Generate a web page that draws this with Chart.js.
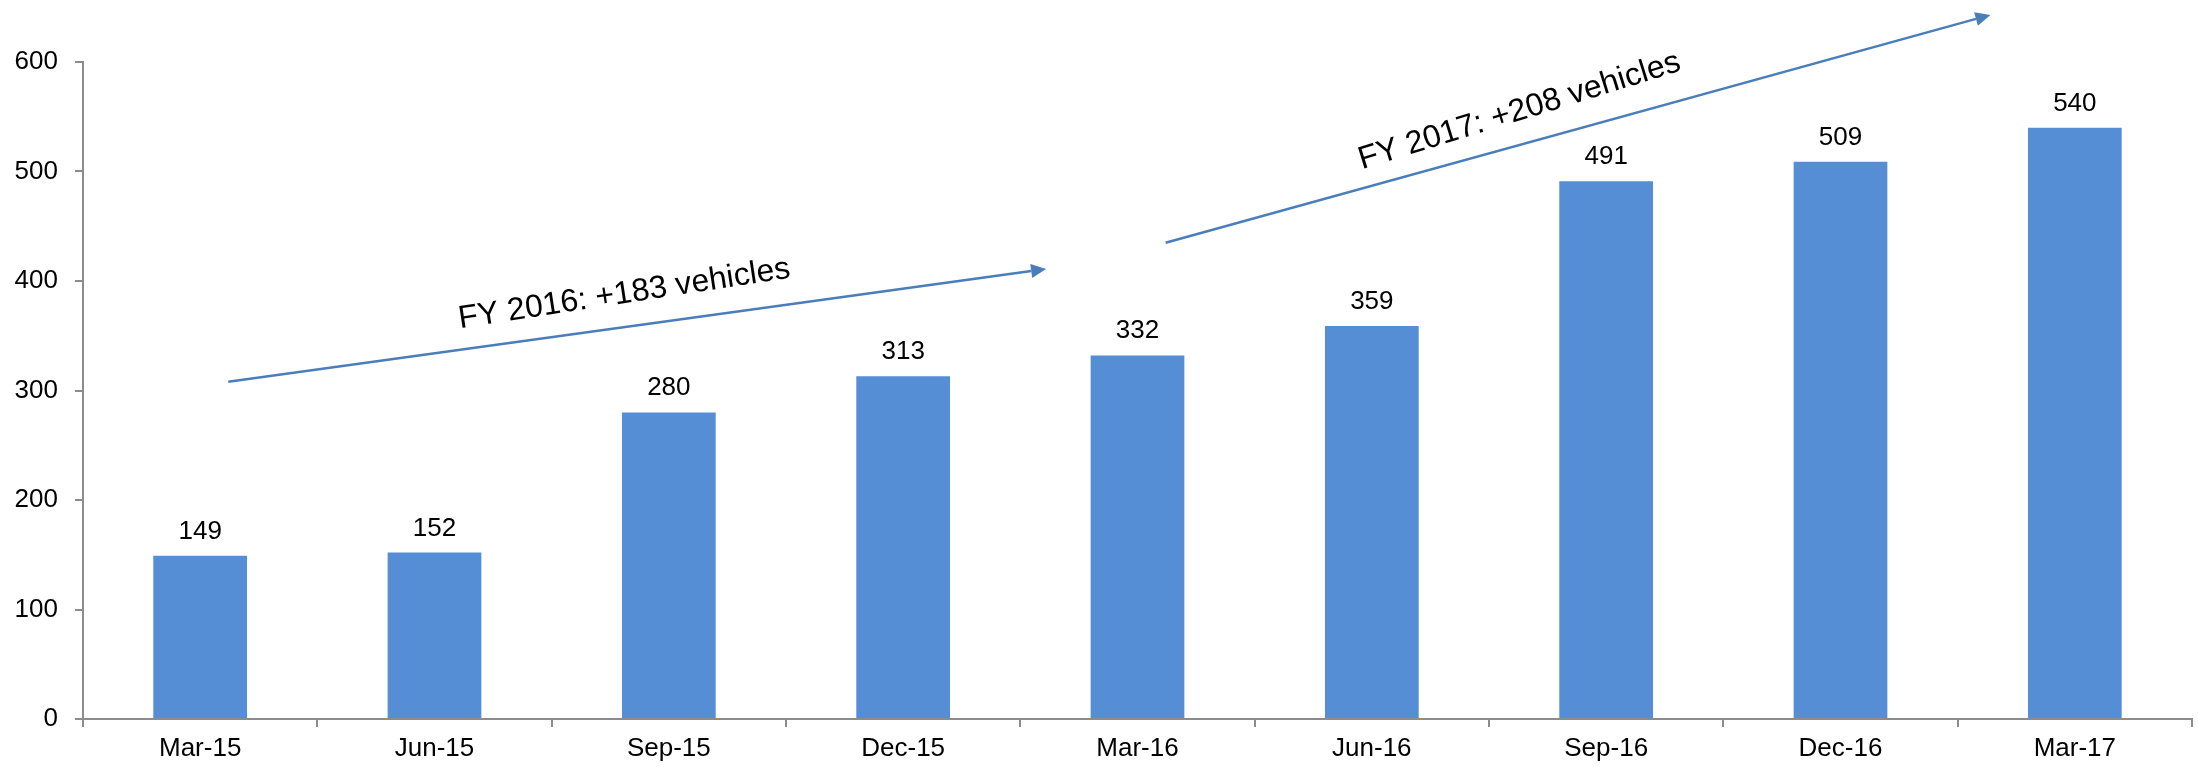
<!DOCTYPE html>
<html>
<head>
<meta charset="utf-8">
<script src="https://cdn.jsdelivr.net/npm/chart.js@4"></script>
<style>
  body { margin: 0; background: #fff; }
  #wrap { width: 2198px; height: 767px; position: relative; }
</style>
</head>
<body>
<div id="wrap"><canvas id="myChart"></canvas></div>
<script>
// chart data
const quarters = ["Mar-15", "Jun-15", "Sep-15", "Dec-15", "Mar-16", "Jun-16", "Sep-16", "Dec-16", "Mar-17"];
const vehicles = [149, 152, 280, 313, 332, 359, 491, 509, 540];
const yTicks = [0, 100, 200, 300, 400, 500, 600];

// annotation texts
const arrowTexts = ["FY 2016: +183 vehicles", "FY 2017: +208 vehicles"];

// arrows in data units (x = category index, y = value)
const arrows = [
    {from: [0.12, 308], to: [3.61, 411], label: [1.81, 388], angle: -8.7},
    {from: [4.12, 435], to: [7.64, 643], label: [5.63, 555], angle: -17.2}
];

const FONT = '"Liberation Sans", Arial, sans-serif';
const ARROW_COLOR = '#4a7ebb';

const extras = {
    id: 'extras',
    afterDatasetsDraw(chart){
        const ctx = chart.ctx;
        const meta = chart.getDatasetMeta(0);
        ctx.save();
        // value labels above bars
        ctx.font = `26px ${FONT}`;
        ctx.fillStyle = '#000';
        ctx.textAlign = 'center';
        ctx.textBaseline = 'alphabetic';
        meta.data.forEach((bar, i) => {
            ctx.fillText(String(vehicles[i]), bar.x, bar.y - 17);
        });

        // trend arrows
        const xs = chart.scales.x, ys = chart.scales.y;
        arrows.forEach((a, i) => {
            const x1 = xs.getPixelForValue(a.from[0]), y1 = ys.getPixelForValue(a.from[1]);
            const x2 = xs.getPixelForValue(a.to[0]), y2 = ys.getPixelForValue(a.to[1]);
            const ang = Math.atan2(y2 - y1, x2 - x1);
            const headLen = 15, headW = 7;
            const bx = x2 - headLen * Math.cos(ang), by = y2 - headLen * Math.sin(ang);

            ctx.strokeStyle = ARROW_COLOR;
            ctx.lineWidth = 2.5;
            ctx.beginPath();
            ctx.moveTo(x1, y1);
            ctx.lineTo(bx, by);
            ctx.stroke();

            ctx.fillStyle = ARROW_COLOR;
            ctx.beginPath();
            ctx.moveTo(x2, y2);
            ctx.lineTo(bx + headW * Math.sin(ang), by - headW * Math.cos(ang));
            ctx.lineTo(bx - headW * Math.sin(ang), by + headW * Math.cos(ang));
            ctx.closePath();
            ctx.fill();

            const lx = xs.getPixelForValue(a.label[0]), ly = ys.getPixelForValue(a.label[1]);
            ctx.save();
            ctx.translate(lx, ly);
            ctx.rotate(a.angle * Math.PI / 180);
            ctx.font = `32px ${FONT}`;
            ctx.fillStyle = '#000';
            ctx.textAlign = 'center';
            ctx.textBaseline = 'middle';
            ctx.fillText(arrowTexts[i], 0, 0);
            ctx.restore();
        });
        ctx.restore();
    }
};

new Chart(document.getElementById('myChart'), {
    type: 'bar',
    data: {
        labels: quarters,
        datasets: [{
            data: vehicles,
            backgroundColor: '#558ed5',
            borderWidth: 0,
            categoryPercentage: 1,
            barPercentage: 0.4
        }]
    },
    options: {
        responsive: true,
        maintainAspectRatio: false,
        animation: false,
        layout: {padding: {top: 62, right: 6, left: 0, bottom: 0}},
        plugins: {
            legend: {display: false},
            tooltip: {enabled: false}
        },
        scales: {
            x: {
                grid: {drawOnChartArea: false, drawTicks: true, tickLength: 8, color: '#8c8c8c', lineWidth: 2},
                border: {color: '#8c8c8c', width: 2},
                ticks: {color: '#000', font: {family: FONT, size: 26}, padding: 6, maxRotation: 0},
                afterFit(scale){ scale.height = 48; }
            },
            y: {
                min: yTicks[0],
                max: yTicks[yTicks.length - 1],
                afterBuildTicks(scale){ scale.ticks = yTicks.map(v => ({value: v})); },
                grid: {drawOnChartArea: false, drawTicks: true, tickLength: 8, color: '#8c8c8c', lineWidth: 2},
                border: {color: '#8c8c8c', width: 2},
                ticks: {color: '#000', font: {family: FONT, size: 26}, padding: 17},
                afterFit(scale){ scale.width = 83; }
            }
        }
    },
    plugins: [extras]
});
</script>
</body>
</html>
